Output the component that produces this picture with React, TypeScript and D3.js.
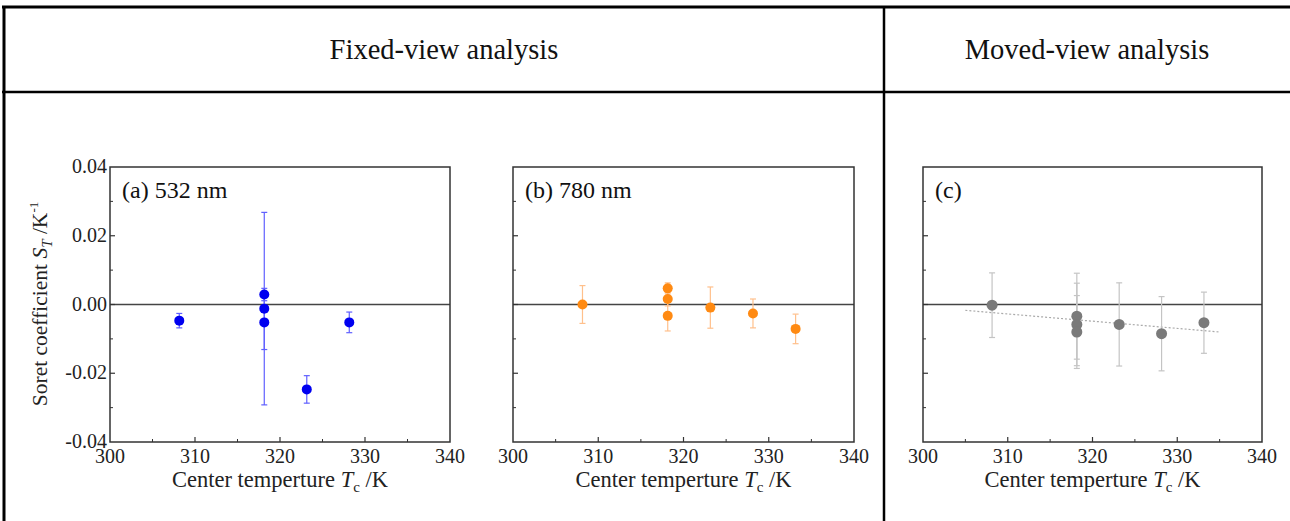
import React from 'react';
import * as d3 from 'd3';

// panel (a) 532 nm
const aTemp = [308.15, 318.15, 318.15, 318.15, 323.15, 328.15];
const aSoret = [-0.0047, 0.0029, -0.0012, -0.0052, -0.0247, -0.0052];
const aErr = [0.0021, 0.0018, 0.028, 0.0079, 0.004, 0.003];

// panel (b) 780 nm
const bTemp = [308.15, 318.15, 318.15, 318.15, 323.15, 328.15, 333.15];
const bSoret = [0.0, 0.0047, 0.0016, -0.0033, -0.0009, -0.0026, -0.0071];
const bErr = [0.0055, 0.0016, 0.002, 0.0044, 0.006, 0.0042, 0.0043];

// panel (c) moved view
const cTemp = [308.15, 318.15, 318.15, 318.15, 323.15, 328.15, 333.15];
const cSoret = [-0.0002, -0.0034, -0.0058, -0.008, -0.0058, -0.0085, -0.0053];
const cErr = [0.0094, 0.0125, 0.012, 0.0106, 0.0121, 0.0108, 0.0089];
const cFitTemp = [305, 335];
const cFitSoret = [-0.0017, -0.008];

const xTicks = [300, 310, 320, 330, 340];
const xMinor = [305, 315, 325, 335];
const yTicks = [-0.04, -0.02, 0.0, 0.02, 0.04];
const yMinor = [-0.03, -0.01, 0.01, 0.03];

const FONT = '"Liberation Serif", serif';
const TOP = 167;
const BOTTOM = 442;

type PanelProps = {
  left: number;
  right: number;
  label: string;
  temp: number[];
  soret: number[];
  err: number[];
  dot: string;
  bar: string;
  r: number;
  showY?: boolean;
  fitT?: number[];
  fitS?: number[];
};

function Panel({ left, right, label, temp, soret, err, dot, bar, r, showY, fitT, fitS }: PanelProps) {
  const x = d3.scaleLinear().domain([300, 340]).range([left, right]);
  const y = d3.scaleLinear().domain([-0.04, 0.04]).range([BOTTOM, TOP]);
  const cx = (left + right) / 2;

  const fitLine =
    fitT && fitS
      ? d3
          .line<number>()
          .x((d) => x(d))
          .y((_, i) => y(fitS[i]))(fitT)
      : null;

  return (
    <g>
      {/* zero line */}
      <line x1={left} x2={right} y1={y(0)} y2={y(0)} stroke="#444" strokeWidth={1.6} />

      {fitLine && (
        <path d={fitLine} fill="none" stroke="#aaa" strokeWidth={1.2} strokeDasharray="2,2" />
      )}

      {/* error bars */}
      {temp.map((t, i) => (
        <g key={'e' + i} stroke={bar} strokeWidth={1.2}>
          <line x1={x(t)} x2={x(t)} y1={y(soret[i] + err[i])} y2={y(soret[i] - err[i])} />
          <line x1={x(t) - 3} x2={x(t) + 3} y1={y(soret[i] + err[i])} y2={y(soret[i] + err[i])} />
          <line x1={x(t) - 3} x2={x(t) + 3} y1={y(soret[i] - err[i])} y2={y(soret[i] - err[i])} />
        </g>
      ))}

      {temp.map((t, i) => (
        <circle key={'p' + i} cx={x(t)} cy={y(soret[i])} r={r} fill={dot} />
      ))}

      {/* frame */}
      <rect x={left} y={TOP} width={right - left} height={BOTTOM - TOP} fill="none" stroke="#333" strokeWidth={1.5} />

      {/* ticks */}
      {xTicks.slice(1, -1).map((t) => (
        <line key={'xt' + t} x1={x(t)} x2={x(t)} y1={BOTTOM} y2={BOTTOM - 5} stroke="#333" strokeWidth={1.2} />
      ))}
      {xMinor.map((t) => (
        <line key={'xm' + t} x1={x(t)} x2={x(t)} y1={BOTTOM} y2={BOTTOM - 3} stroke="#333" strokeWidth={1} />
      ))}
      {yTicks.slice(1, -1).map((t) => (
        <line key={'yt' + t} x1={left} x2={left + 5} y1={y(t)} y2={y(t)} stroke="#333" strokeWidth={1.2} />
      ))}
      {yMinor.map((t) => (
        <line key={'ym' + t} x1={left} x2={left + 3} y1={y(t)} y2={y(t)} stroke="#333" strokeWidth={1} />
      ))}

      {/* tick labels */}
      {xTicks.map((t) => (
        <text key={'xl' + t} x={x(t)} y={463} textAnchor="middle" fontSize={20} fill="#222">
          {t}
        </text>
      ))}
      {showY &&
        yTicks.map((t) => (
          <text key={'yl' + t} x={left - 3} y={y(t) + 6} textAnchor="end" fontSize={20} fill="#222">
            {t.toFixed(2)}
          </text>
        ))}

      {/* panel label */}
      <text x={left + 12} y={198} fontSize={24} fill="#111">
        {label}
      </text>

      {/* x axis title */}
      <text x={cx} y={487} textAnchor="middle" fontSize={22.5} fill="#222">
        Center temperture{' '}
        <tspan fontStyle="italic">T</tspan>
        <tspan fontSize={15} dy={5}>c</tspan>
        <tspan dy={-5}> /K</tspan>
      </text>
    </g>
  );
}

export default function App() {
  return (
    <svg
      width={1290}
      height={521}
      style={{ position: 'absolute', left: 0, top: 0, background: '#fff' }}
      fontFamily={FONT}
    >
      <rect width={1290} height={521} fill="#fff" />

      {/* table lines */}
      <line x1={2} x2={1290} y1={7} y2={7} stroke="#000" strokeWidth={3} />
      <line x1={2} x2={1290} y1={92} y2={92} stroke="#000" strokeWidth={2.5} />
      <line x1={4} x2={4} y1={6} y2={521} stroke="#000" strokeWidth={3} />
      <line x1={884} x2={884} y1={6} y2={521} stroke="#000" strokeWidth={2.5} />

      <text x={444} y={59} textAnchor="middle" fontSize={28.5} fill="#111">
        Fixed-view analysis
      </text>
      <text x={1087} y={59} textAnchor="middle" fontSize={28.5} fill="#111">
        Moved-view analysis
      </text>

      {/* y axis title */}
      <text transform="translate(47,304) rotate(-90)" textAnchor="middle" fontSize={21.5} fill="#222">
        Soret coefficient{' '}
        <tspan fontStyle="italic">S</tspan>
        <tspan fontStyle="italic" fontSize={15} dy={5}>T</tspan>
        <tspan dy={-5}> /K</tspan>
        <tspan fontSize={13} dy={-9}>-1</tspan>
      </text>

      <Panel
        left={110}
        right={450}
        label="(a) 532 nm"
        temp={aTemp}
        soret={aSoret}
        err={aErr}
        dot="#0000f0"
        bar="#6060ff"
        r={5}
        showY
      />
      <Panel
        left={513}
        right={854}
        label="(b) 780 nm"
        temp={bTemp}
        soret={bSoret}
        err={bErr}
        dot="#ff8a12"
        bar="#ffc08c"
        r={5}
      />
      <Panel
        left={923}
        right={1262}
        label="(c)"
        temp={cTemp}
        soret={cSoret}
        err={cErr}
        dot="#7a7a7a"
        bar="#c4c4c4"
        r={5.5}
        fitT={cFitTemp}
        fitS={cFitSoret}
      />
    </svg>
  );
}
